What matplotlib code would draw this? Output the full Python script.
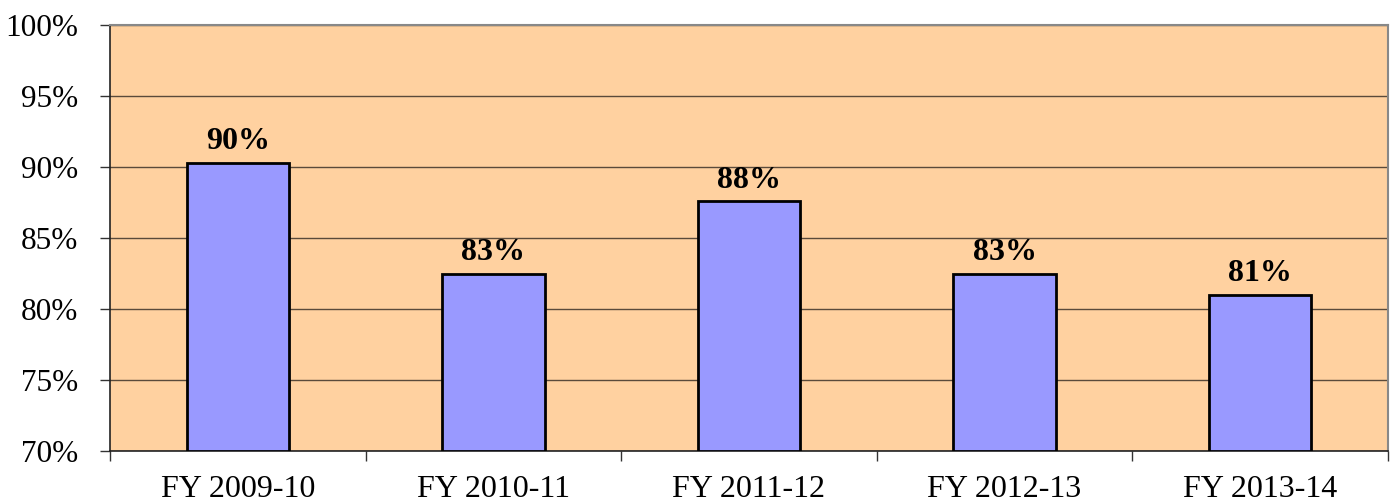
import matplotlib.pyplot as plt
from matplotlib.ticker import FuncFormatter

years = ['FY 2009-10', 'FY 2010-11', 'FY 2011-12', 'FY 2012-13', 'FY 2013-14']
values = [90.3, 82.5, 87.6, 82.5, 81.0]
labels = ['90%', '83%', '88%', '83%', '81%']

plt.rcParams['font.family'] = ['Liberation Serif', 'DejaVu Serif']

fig = plt.figure(figsize=(13.93, 5.01), dpi=100)
ax = fig.add_axes([110 / 1393, 1 - 451 / 501, 1278 / 1393, 426 / 501])
ax.set_facecolor('#FFD1A0')

x = list(range(len(years)))
ax.bar(x, [v - 70 for v in values], bottom=70, width=0.4,
       color='#9999FF', edgecolor='black', linewidth=2, zorder=3)

# value labels above the bars
for xi, v, lab in zip(x, values, labels):
    ax.annotate(lab, xy=(xi, v), xytext=(0, 15), textcoords='offset points',
                ha='center', va='center', fontsize=23, fontweight='bold', zorder=4)

ax.set_xlim(-0.5, len(years) - 0.5)
ax.set_ylim(70, 100)
ax.set_yticks(range(70, 101, 5))
ax.yaxis.set_major_formatter(FuncFormatter(lambda v, p: '%d%%' % v))
ax.set_xticks(x)
ax.set_xticklabels(years)
ax.set_xticks([i + 0.5 for i in range(-1, len(years))], minor=True)
ax.tick_params(axis='x', which='major', length=0, pad=17, labelsize=23)
ax.tick_params(axis='x', which='minor', length=7, width=1, color='#333333')
ax.tick_params(axis='y', length=7, width=1, color='#333333', labelsize=22.5, pad=16)

ax.grid(axis='y', color='#5a4a3a', linewidth=1, zorder=1)
ax.set_axisbelow(True)

for side in ['top', 'right']:
    ax.spines[side].set_color('#888888')
    ax.spines[side].set_linewidth(1.5)
for side in ['left', 'bottom']:
    ax.spines[side].set_color('#222222')
    ax.spines[side].set_linewidth(1.2)

plt.savefig('out.png', dpi=100)
